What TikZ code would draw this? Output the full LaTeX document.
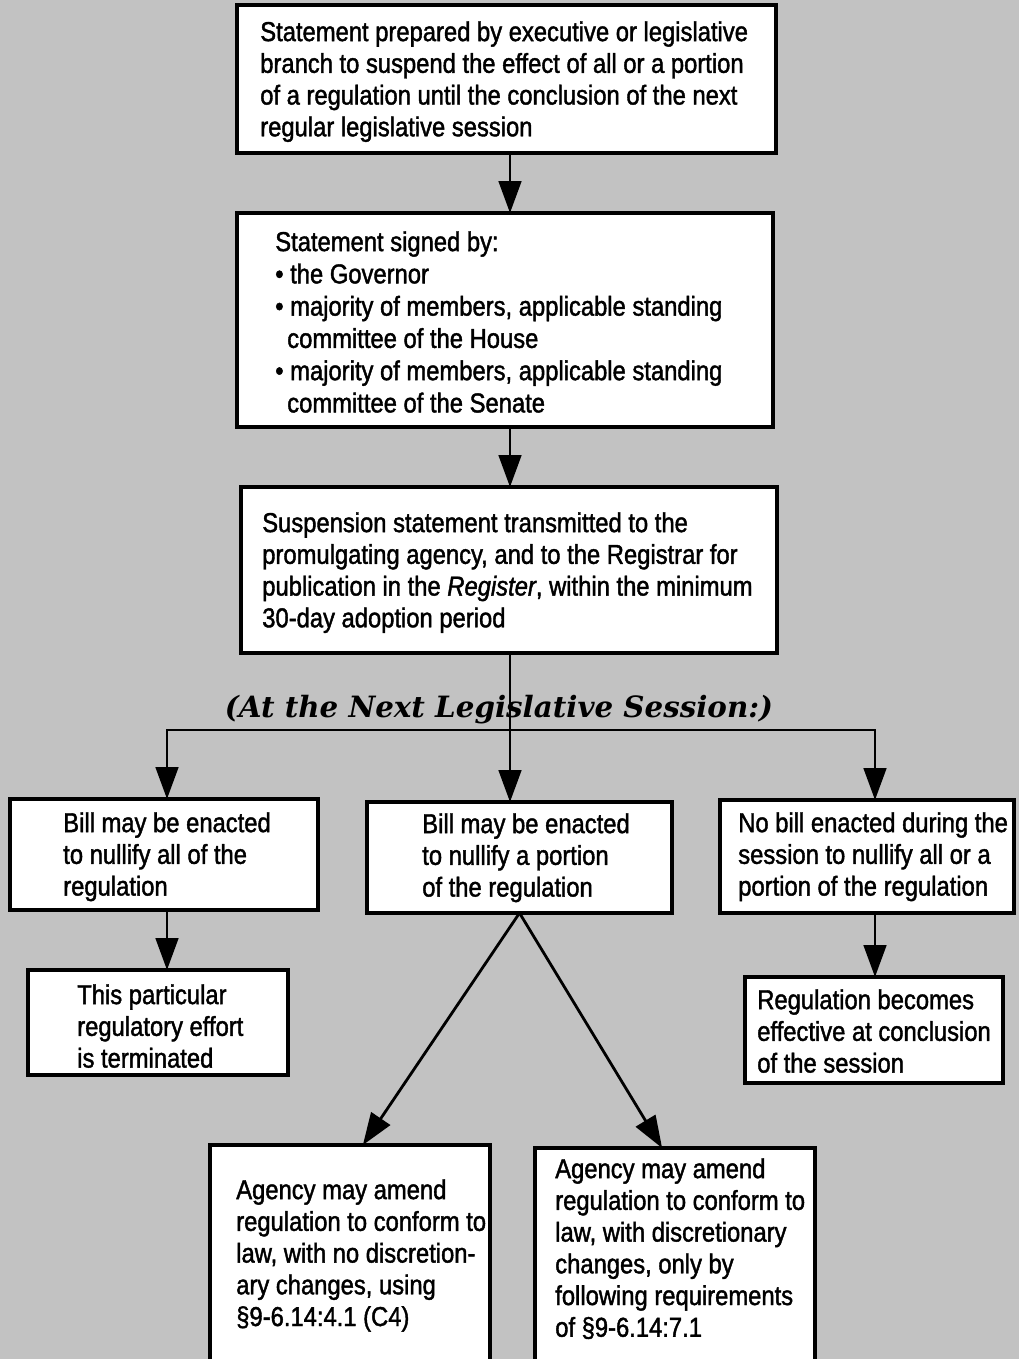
\documentclass[tikz,border=0pt]{standalone}
\usepackage{fontspec}
\setmainfont{Liberation Sans}[FakeStretch=0.87,FakeBold=1.5]
\newfontfamily\labfont{DejaVu Serif}
\usetikzlibrary{arrows.meta,fit,calc}
\definecolor{halftone}{gray}{0.76}
\begin{document}
\begin{tikzpicture}[x=0.75pt,y=-0.75pt,
  box/.style={draw=black, line width=2.6pt, fill=white, inner sep=0pt, outer sep=0pt},
  txt/.style={anchor=north west, inner sep=0pt, align=left, font=\fontsize{20.5}{23.8}\selectfont},
  conn/.style={line width=2.1pt},
  arr/.style={conn, -{Triangle[width=17pt,length=24pt]}},
  lab/.style={font=\labfont\bfseries\itshape\fontsize{22}{24}\selectfont, inner sep=0pt}]
\useasboundingbox (0,0) rectangle (1019,1359);
\clip (0,0) rectangle (1019,1359);
\fill[halftone] (0,0) rectangle (1019,1359);

% boxes
\node[box, fit={(237,5) (776,153)}] (b1) {};
\node[box, fit={(237,213) (773,427)}] (b2) {};
\node[box, fit={(241,487) (777,653)}] (b3) {};
\node[box, fit={(10,799) (318,910)}] (l1) {};
\node[box, fit={(28,970) (288,1075)}] (l2) {};
\node[box, fit={(367,802) (672,913)}] (m1) {};
\node[box, fit={(720,800) (1014,913)}] (r1) {};
\node[box, fit={(745,977) (1003,1083)}] (r2) {};
\node[box, fit={(210,1145) (490,1420)}] (bb1) {};
\node[box, fit={(535,1148) (815,1420)}] (bb2) {};

% texts
\node[txt] (t1) at (260,21) {Statement prepared by executive or legislative\\branch to suspend the effect of all or a portion\\of a regulation until the conclusion of the next\\regular legislative session};
\node[txt, font=\fontsize{20.5}{24.2}\selectfont] (t2) at (275,231) {Statement signed by:\\\textbullet\ the Governor\\\textbullet\ majority of members, applicable standing\\\hspace*{9pt}committee of the House\\\textbullet\ majority of members, applicable standing\\\hspace*{9pt}committee of the Senate};
\node[txt] (t3) at (262,512) {Suspension statement transmitted to the\\promulgating agency, and to the Registrar for\\publication in the \textit{Register}, within the minimum\\30-day adoption period};
\node[txt] (tl1) at (63,812) {Bill may be enacted\\to nullify all of the\\regulation};
\node[txt] (tl2) at (77,984) {This particular\\regulatory effort\\is terminated};
\node[txt] (tm1) at (422,813) {Bill may be enacted\\to nullify a portion\\of the regulation};
\node[txt] (tr1) at (738,812) {No bill enacted during the\\session to nullify all or a\\portion of the regulation};
\node[txt] (tr2) at (757,989) {Regulation becomes\\effective at conclusion\\of the session};
\node[txt] (tb1) at (236,1179) {Agency may amend\\regulation to conform to\\law, with no discretion-\\ary changes, using\\\S9-6.14:4.1 (C4)};
\node[txt] (tb2) at (555,1158) {Agency may amend\\regulation to conform to\\law, with discretionary\\changes, only by\\following requirements\\of \S9-6.14:7.1};

% connectors
\coordinate (sp) at (510,0);
\coordinate (hm) at (510,730);
\coordinate (hl) at (167,730);
\coordinate (hr) at (875,730);
\draw[arr] (b1.south -| sp) -- (b2.north -| sp);
\draw[arr] (b2.south -| sp) -- (b3.north -| sp);
\draw[conn] (b3.south -| sp) -- (hm);
\draw[arr] (hm) -- (m1.north -| hm);
\draw[arr] (hm) -- (hl) -- (l1.north -| hl);
\draw[arr] (hm) -- (hr) -- (r1.north -| hr);
\draw[arr] (l1.south -| hl) -- (l2.north -| hl);
\draw[arr] (r1.south -| hr) -- (r2.north -| hr);
\draw[arr] (m1.south) -- ($(bb1.north west)!0.546!(bb1.north east)$);
\draw[arr] (m1.south) -- ($(bb2.north west)!0.454!(bb2.north east)$);

\node[lab] (lab) at (499,710) {(At the Next Legislative Session:)};
\end{tikzpicture}
\end{document}
